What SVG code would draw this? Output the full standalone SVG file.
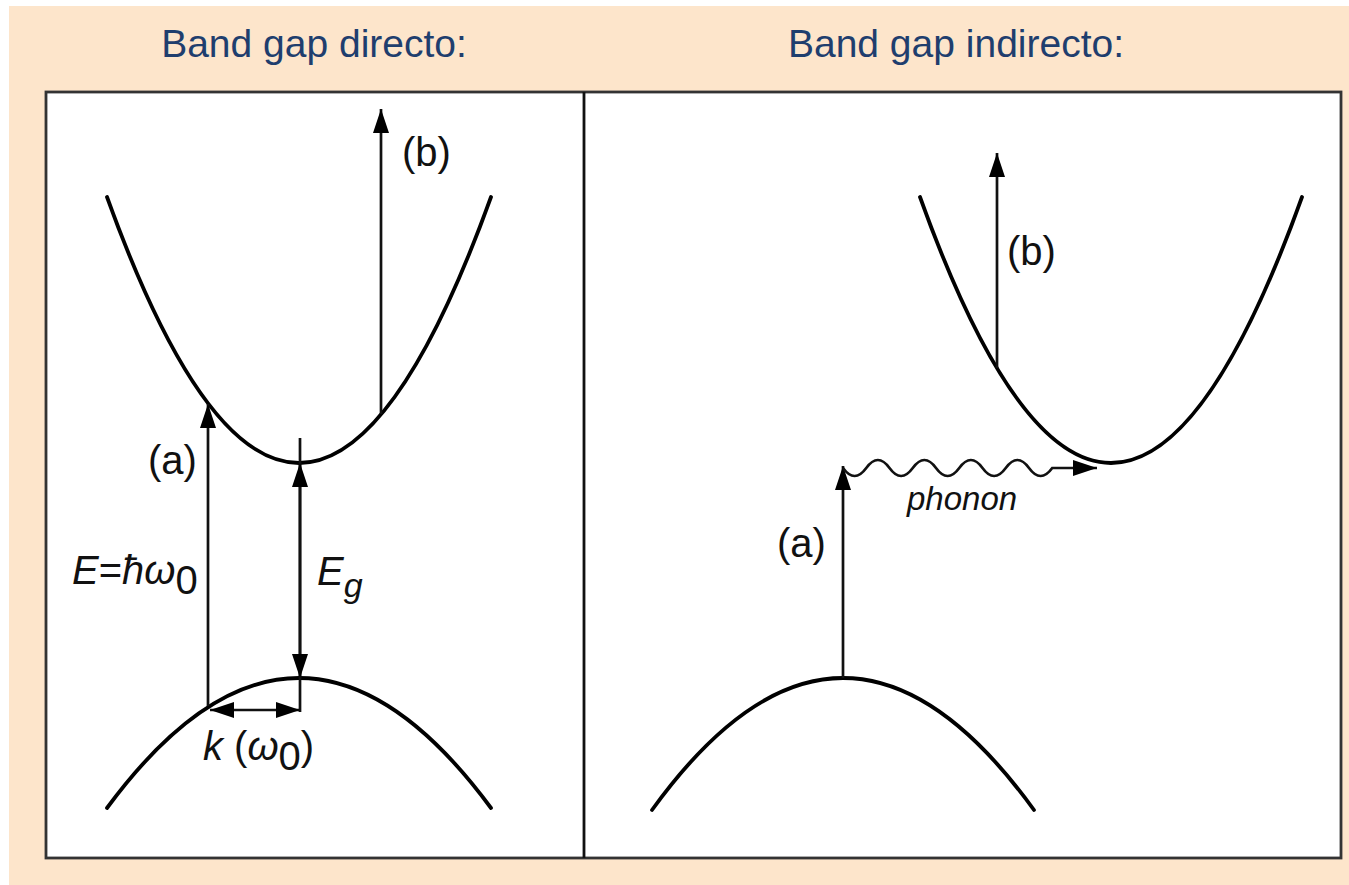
<svg xmlns="http://www.w3.org/2000/svg" width="1349" height="885" viewBox="0 0 1349 885">
  <defs>
    <style>
      .band { fill: none; stroke: #000; stroke-width: 3.8; stroke-linecap: round; }
      .arrow { fill: none; stroke: #111; stroke-width: 2.7; }
      .title { font-family: "Liberation Sans", Arial, sans-serif; font-size: 39px; fill: #1f3e6e; }
      .lbl { font-family: "Liberation Sans", Arial, sans-serif; font-size: 40px; fill: #111; }
      .it { font-style: italic; }
      .sub { font-size: 34px; }
      .phonon { font-size: 33px; }
    </style>
    <marker id="arr" viewBox="0 0 24 16" refX="24" refY="8" markerWidth="24" markerHeight="16" markerUnits="userSpaceOnUse" orient="auto-start-reverse">
      <path d="M0,0 L24,8 L0,16 z" fill="#000"/>
    </marker>
  </defs>

  <rect x="0" y="0" width="1349" height="885" fill="#ffffff"/>
  <rect x="9" y="6" width="1340" height="879" fill="#fde5cb"/>

  <g id="panels">
    <rect x="46" y="92" width="1295" height="766" fill="#ffffff" stroke="#333" stroke-width="2.8"/>
    <line x1="584" y1="92" x2="584" y2="858" stroke="#111" stroke-width="2.8"/>
  </g>

  <g id="titles">
    <text class="title" x="314" y="57" text-anchor="middle">Band gap directo:</text>
    <text class="title" x="956" y="57" text-anchor="middle">Band gap indirecto:</text>
  </g>

  <g id="direct-bands">
    <path id="direct-conduction" class="band" d="M107,197 Q299,729 491,197"/>
    <path id="direct-valence" class="band" d="M107,808 Q299,548 491,808"/>
  </g>

  <g id="indirect-bands">
    <path id="indirect-conduction" class="band" d="M920,197 Q1111,729 1302,197"/>
    <path id="indirect-valence" class="band" d="M652,810 Q843,546 1034,810"/>
  </g>

  <g id="connectors">
    <line class="arrow" x1="208" y1="706" x2="208" y2="404" marker-end="url(#arr)"/>
    <line class="arrow" x1="381" y1="414" x2="381" y2="109" marker-end="url(#arr)"/>
    <line class="arrow" x1="300" y1="438" x2="300" y2="712"/>
    <line class="arrow" x1="300" y1="463" x2="300" y2="678" marker-start="url(#arr)" marker-end="url(#arr)"/>
    <line class="arrow" x1="210" y1="710" x2="300" y2="710" marker-start="url(#arr)" marker-end="url(#arr)"/>
    <line class="arrow" x1="843" y1="678" x2="843" y2="466" marker-end="url(#arr)"/>
    <line class="arrow" x1="997" y1="368" x2="997" y2="153" marker-end="url(#arr)"/>
    <path class="arrow" d="M843,468 Q854.6,484 866.25,468 T889.5,468 T912.75,468 T936,468 T959.25,468 T982.5,468 T1005.75,468 T1029,468 T1052.25,468 L1097,468" marker-end="url(#arr)"/>
  </g>

  <g id="labels">
    <text class="lbl" x="148" y="474">(a)</text>
    <text class="lbl" x="402" y="166">(b)</text>
    <text class="lbl" x="72" y="584"><tspan class="it">E</tspan>=<tspan class="it">ħω</tspan><tspan dy="10">0</tspan></text>
    <text class="lbl" x="317" y="585"><tspan class="it">E</tspan><tspan class="it sub" dy="12">g</tspan></text>
    <text class="lbl" x="203" y="760"><tspan class="it">k</tspan> (<tspan class="it">ω</tspan><tspan dy="10">0</tspan><tspan dy="-10">)</tspan></text>
    <text class="lbl" x="777" y="557">(a)</text>
    <text class="lbl" x="1007" y="265">(b)</text>
    <text class="lbl it phonon" x="907" y="510">phonon</text>
  </g>
</svg>
